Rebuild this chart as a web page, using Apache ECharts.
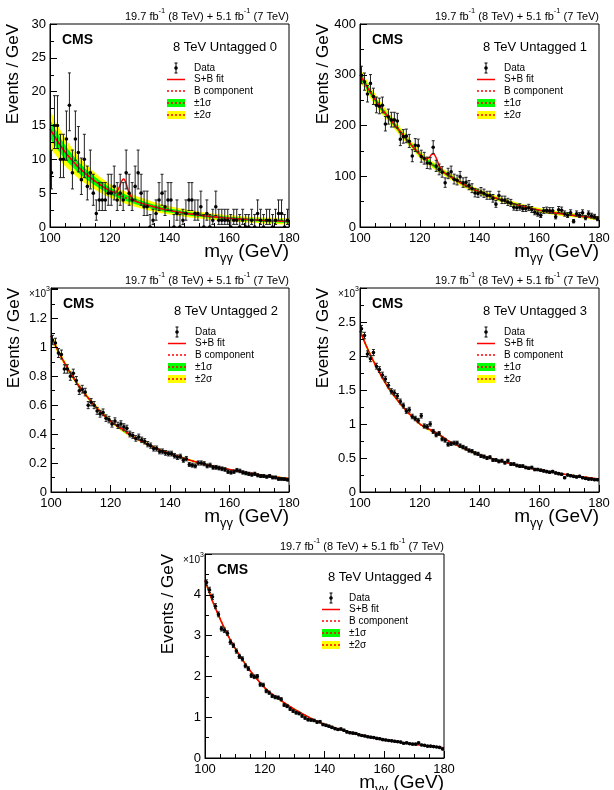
<!DOCTYPE html>
<html>
<head>
<meta charset="utf-8">
<script src="https://cdn.jsdelivr.net/npm/echarts@6/dist/echarts.min.js"></script>
<style>
html, body { margin: 0; padding: 0; background: #fff; }
#main { width: 614px; height: 790px; }
</style>
</head>
<body>
<div id="main"></div>
<script>
var massBins = [100.5, 101.5, 102.5, 103.5, 104.5, 105.5, 106.5, 107.5, 108.5, 109.5,
	110.5, 111.5, 112.5, 113.5, 114.5, 115.5, 116.5, 117.5, 118.5, 119.5,
	120.5, 121.5, 122.5, 123.5, 124.5, 125.5, 126.5, 127.5, 128.5, 129.5,
	130.5, 131.5, 132.5, 133.5, 134.5, 135.5, 136.5, 137.5, 138.5, 139.5,
	140.5, 141.5, 142.5, 143.5, 144.5, 145.5, 146.5, 147.5, 148.5, 149.5,
	150.5, 151.5, 152.5, 153.5, 154.5, 155.5, 156.5, 157.5, 158.5, 159.5,
	160.5, 161.5, 162.5, 163.5, 164.5, 165.5, 166.5, 167.5, 168.5, 169.5,
	170.5, 171.5, 172.5, 173.5, 174.5, 175.5, 176.5, 177.5, 178.5, 179.5];

var fitMass = [100, 102.5, 105, 107.5, 110, 115, 120, 122, 123, 124, 124.7, 125.5, 126.5, 128, 130, 135, 140, 150, 160, 170, 180];

// Untagged 0 (events / GeV)
var untag0Data = [8, 15, 15, 10, 10, 13, 18, 8, 13, 11, 7, 10, 6, 8, 5, 2, 4, 4, 4, 5,
	5, 6, 4, 5, 4, 8, 5, 4, 6, 8, 5, 3, 3, 0, 1, 2, 4, 5, 3, 4,
	4, 0, 2, 0, 1, 2, 4, 4, 2, 2, 3, 0, 2, 0, 1, 3, 1, 1, 1, 1,
	0, 1, 1, 0, 1, 0, 0, 1, 0, 2, 1, 0, 1, 1, 0, 1, 2, 2, 0, 1];
var untag0Bkg = [14.5, 12.7, 11.1, 9.8, 8.6, 6.8, 5.35, 4.95, 4.75, 4.55, 4.45, 4.3, 4.15, 3.9, 3.6, 2.95, 2.45, 1.75, 1.3, 1.0, 0.82];
var untag0Fit = [14.5, 12.7, 11.1, 9.8, 8.6, 6.8, 5.35, 5.15, 5.7, 6.8, 7.1, 6.4, 5.0, 3.95, 3.6, 2.95, 2.45, 1.75, 1.3, 1.0, 0.82];
var untag0Sig1 = [1.4, 1.2, 1.05, 0.9, 0.8, 0.62, 0.5, 0.47, 0.46, 0.45, 0.45, 0.44, 0.43, 0.42, 0.4, 0.35, 0.3, 0.25, 0.22, 0.22, 0.24];
var untag0Sig2 = [2.8, 2.4, 2.1, 1.8, 1.6, 1.25, 1.0, 0.95, 0.93, 0.91, 0.9, 0.89, 0.87, 0.84, 0.8, 0.7, 0.6, 0.5, 0.45, 0.45, 0.5];

// Untagged 1 (events / GeV)
var untag1Data = [299, 286, 262, 283, 257, 240, 238, 240, 203, 217, 211, 211, 209, 173, 178, 179, 169, 140, 161, 160,
	139, 135, 126, 125, 157, 120, 113, 108, 87, 105, 109, 94, 92, 99, 87, 88, 82, 76, 67, 66,
	69, 66, 62, 62, 56, 45, 62, 53, 53, 49, 47, 39, 38, 39, 36, 36, 38, 34, 29, 26,
	23, 32, 33, 32, 32, 20, 34, 33, 26, 23, 28, 11, 26, 23, 28, 18, 26, 22, 20, 16];
var untag1Bkg = [300, 275, 252, 231, 213, 177, 143, 133, 128, 124, 121, 118, 114, 108, 100, 83, 69, 48, 33, 24, 17];
var untag1Fit = [300, 275, 252, 231, 213, 177, 143, 135, 136, 143, 144, 136, 121, 108.5, 100, 83, 69, 48, 33, 24, 17];
var untag1Sig1 = [7, 6.2, 5.5, 5, 4.5, 4, 3.5, 3.4, 3.3, 3.3, 3.3, 3.2, 3.2, 3.1, 3, 2.8, 2.6, 2.3, 2.1, 2, 2];
var untag1Sig2 = [14, 12.4, 11, 10, 9, 8, 7, 6.8, 6.6, 6.6, 6.6, 6.4, 6.4, 6.2, 6, 5.6, 5.2, 4.6, 4.2, 4, 4];

// Untagged 2 (x10^3 events / GeV)
var untag2Data = [1.05, 1.03, 0.96, 0.95, 0.85, 0.85, 0.80, 0.82, 0.77, 0.70, 0.71, 0.69, 0.60, 0.62, 0.60, 0.56, 0.54, 0.55, 0.51, 0.50,
	0.47, 0.49, 0.46, 0.47, 0.45, 0.44, 0.40, 0.39, 0.37, 0.38, 0.36, 0.35, 0.33, 0.32, 0.30, 0.30, 0.28, 0.28, 0.27, 0.265,
	0.265, 0.25, 0.24, 0.245, 0.22, 0.23, 0.19, 0.185, 0.18, 0.20, 0.20, 0.195, 0.18, 0.185, 0.17, 0.17, 0.165, 0.16, 0.155, 0.14,
	0.135, 0.14, 0.15, 0.145, 0.135, 0.13, 0.125, 0.12, 0.125, 0.115, 0.11, 0.11, 0.105, 0.11, 0.10, 0.10, 0.09, 0.09, 0.088, 0.085];
var untag2Bkg = [1.08, 0.97, 0.875, 0.79, 0.715, 0.59, 0.49, 0.458, 0.443, 0.428, 0.418, 0.407, 0.394, 0.376, 0.355, 0.305, 0.265, 0.2, 0.155, 0.12, 0.092];
var untag2Fit = [1.08, 0.97, 0.875, 0.79, 0.715, 0.59, 0.49, 0.459, 0.447, 0.436, 0.428, 0.415, 0.397, 0.376, 0.355, 0.305, 0.265, 0.2, 0.155, 0.12, 0.092];
var untag2Sig1 = [0.012, 0.011, 0.01, 0.009, 0.008, 0.007, 0.006, 0.006, 0.006, 0.006, 0.006, 0.006, 0.005, 0.005, 0.005, 0.005, 0.004, 0.004, 0.003, 0.003, 0.003];
var untag2Sig2 = [0.024, 0.022, 0.02, 0.018, 0.016, 0.014, 0.012, 0.012, 0.012, 0.012, 0.012, 0.012, 0.01, 0.01, 0.01, 0.01, 0.008, 0.008, 0.006, 0.006, 0.006];

// Untagged 3 (x10^3 events / GeV)
var untag3Data = [2.40, 2.30, 2.03, 1.96, 2.05, 1.85, 1.80, 1.72, 1.66, 1.57, 1.48, 1.46, 1.41, 1.33, 1.27, 1.19, 1.21, 1.11, 1.08, 1.05,
	1.12, 0.97, 0.96, 1.00, 0.89, 0.84, 0.86, 0.78, 0.76, 0.70, 0.71, 0.72, 0.72, 0.68, 0.66, 0.64, 0.61, 0.60, 0.57, 0.56,
	0.53, 0.52, 0.50, 0.51, 0.47, 0.47, 0.45, 0.46, 0.43, 0.46, 0.41, 0.41, 0.39, 0.38, 0.38, 0.36, 0.35, 0.36, 0.33, 0.33,
	0.32, 0.31, 0.30, 0.29, 0.30, 0.28, 0.27, 0.26, 0.21, 0.25, 0.24, 0.23, 0.22, 0.23, 0.21, 0.20, 0.19, 0.19, 0.18, 0.18];
var untag3Bkg = [2.37, 2.11, 1.88, 1.68, 1.5, 1.22, 1.0, 0.945, 0.92, 0.895, 0.878, 0.86, 0.84, 0.8, 0.74, 0.635, 0.55, 0.42, 0.325, 0.25, 0.19];
var untag3Fit = [2.37, 2.11, 1.88, 1.68, 1.5, 1.22, 1.0, 0.947, 0.928, 0.912, 0.898, 0.876, 0.847, 0.801, 0.74, 0.635, 0.55, 0.42, 0.325, 0.25, 0.19];
var untag3Sig1 = [0.02, 0.018, 0.016, 0.014, 0.013, 0.011, 0.01, 0.01, 0.01, 0.009, 0.009, 0.009, 0.009, 0.009, 0.008, 0.008, 0.007, 0.006, 0.005, 0.005, 0.005];
var untag3Sig2 = [0.04, 0.036, 0.032, 0.028, 0.026, 0.022, 0.02, 0.02, 0.02, 0.018, 0.018, 0.018, 0.018, 0.018, 0.016, 0.016, 0.014, 0.012, 0.01, 0.01, 0.01];

// Untagged 4 (x10^3 events / GeV)
var untag4Data = [4.30, 4.12, 3.95, 3.72, 3.52, 3.17, 3.13, 3.06, 2.84, 2.76, 2.62, 2.49, 2.43, 2.26, 2.19, 2.02, 1.99, 2.00, 1.80, 1.79,
	1.64, 1.60, 1.52, 1.49, 1.48, 1.44, 1.30, 1.27, 1.20, 1.15, 1.11, 1.09, 1.03, 0.98, 0.94, 0.93, 0.92, 0.88, 0.89, 0.82,
	0.80, 0.78, 0.75, 0.72, 0.70, 0.71, 0.68, 0.64, 0.62, 0.61, 0.60, 0.57, 0.55, 0.54, 0.52, 0.51, 0.50, 0.48, 0.47, 0.45,
	0.44, 0.43, 0.42, 0.41, 0.40, 0.39, 0.36, 0.37, 0.35, 0.34, 0.34, 0.37, 0.32, 0.31, 0.29, 0.29, 0.28, 0.27, 0.26, 0.22];
var untag4Bkg = [4.35, 3.85, 3.42, 3.03, 2.7, 2.15, 1.72, 1.59, 1.53, 1.47, 1.44, 1.4, 1.35, 1.28, 1.19, 0.99, 0.825, 0.6, 0.445, 0.335, 0.25];
var untag4Fit = [4.35, 3.85, 3.42, 3.03, 2.7, 2.15, 1.72, 1.592, 1.54, 1.49, 1.46, 1.415, 1.357, 1.281, 1.19, 0.99, 0.825, 0.6, 0.445, 0.335, 0.25];
var untag4Sig1 = [0.03, 0.027, 0.024, 0.021, 0.019, 0.016, 0.014, 0.013, 0.013, 0.013, 0.012, 0.012, 0.012, 0.012, 0.011, 0.01, 0.009, 0.008, 0.007, 0.006, 0.006];
var untag4Sig2 = [0.06, 0.054, 0.048, 0.042, 0.038, 0.032, 0.028, 0.026, 0.026, 0.026, 0.024, 0.024, 0.024, 0.024, 0.022, 0.02, 0.018, 0.016, 0.014, 0.012, 0.012];

var panels = [
	{ label : '8 TeV Untagged 0', data : untag0Data, bkg : untag0Bkg, fit : untag0Fit, sig1 : untag0Sig1, sig2 : untag0Sig2, ymax : 30, ystep : 5, ylast : 30, unit : 1 },
	{ label : '8 TeV Untagged 1', data : untag1Data, bkg : untag1Bkg, fit : untag1Fit, sig1 : untag1Sig1, sig2 : untag1Sig2, ymax : 400, ystep : 100, ylast : 400, unit : 1 },
	{ label : '8 TeV Untagged 2', data : untag2Data, bkg : untag2Bkg, fit : untag2Fit, sig1 : untag2Sig1, sig2 : untag2Sig2, ymax : 1.41, ystep : 0.2, ylast : 1.2, unit : 1000 },
	{ label : '8 TeV Untagged 3', data : untag3Data, bkg : untag3Bkg, fit : untag3Fit, sig1 : untag3Sig1, sig2 : untag3Sig2, ymax : 3.0, ystep : 0.5, ylast : 2.5, unit : 1000 },
	{ label : '8 TeV Untagged 4', data : untag4Data, bkg : untag4Bkg, fit : untag4Fit, sig1 : untag4Sig1, sig2 : untag4Sig2, ymax : 5.0, ystep : 1, ylast : 4, unit : 1000 }
];

var boxes = [
	{ left : 50, top : 24, width : 239, height : 203 },
	{ left : 360, top : 24, width : 239, height : 203 },
	{ left : 51, top : 288, width : 238, height : 204 },
	{ left : 360, top : 288, width : 239, height : 204 },
	{ left : 205, top : 554, width : 239, height : 204 }
];

var FONT = '"Liberation Sans", Arial, Helvetica, sans-serif';
var FAMILY = 'Liberation Sans';

var measureCtx = document.createElement('canvas').getContext('2d');
function textWidth(str, font) {
	measureCtx.font = font;
	return measureCtx.measureText(str).width;
}

function poisson(v, unit) {
	var n = v * unit;
	if (n <= 0) {
		return [0, 1.84 / unit];
	}
	var d = Math.sqrt(n + 0.25);
	return [(n - d + 0.5) / unit, (n + d + 0.5) / unit];
}

function renderPoint(params, api) {
	var x = api.value(0);
	var p = api.coord([x, api.value(1)]);
	var lo = api.coord([x, api.value(2)]);
	var hi = api.coord([x, api.value(3)]);
	var bar = { stroke : '#222', lineWidth : 1 };
	return {
		type : 'group',
		children : [ {
			type : 'line',
			shape : { x1 : p[0], y1 : lo[1], x2 : p[0], y2 : hi[1] },
			style : bar
		}, {
			type : 'line',
			shape : { x1 : p[0] - 1.5, y1 : hi[1], x2 : p[0] + 1.5, y2 : hi[1] },
			style : bar
		}, {
			type : 'line',
			shape : { x1 : p[0] - 1.5, y1 : lo[1], x2 : p[0] + 1.5, y2 : lo[1] },
			style : bar
		}, {
			type : 'circle',
			shape : { cx : p[0], cy : p[1], r : 1.8 },
			style : { fill : '#000' }
		} ]
	};
}

function legendItems(L, T) {
	var cx = L + 126, tx = L + 144;
	var rows = [ T + 44, T + 55.5, T + 67, T + 79, T + 91 ];
	var names = [ 'Data', 'S+B fit', 'B component', '\u00b11\u03c3', '\u00b12\u03c3' ];
	var els = [];
	els.push({ type : 'line', shape : { x1 : cx, y1 : rows[0] - 5, x2 : cx, y2 : rows[0] + 5 }, style : { stroke : '#000', lineWidth : 1 } });
	els.push({ type : 'line', shape : { x1 : cx - 1.5, y1 : rows[0] - 5, x2 : cx + 1.5, y2 : rows[0] - 5 }, style : { stroke : '#000', lineWidth : 1 } });
	els.push({ type : 'line', shape : { x1 : cx - 1.5, y1 : rows[0] + 5, x2 : cx + 1.5, y2 : rows[0] + 5 }, style : { stroke : '#000', lineWidth : 1 } });
	els.push({ type : 'circle', shape : { cx : cx, cy : rows[0], r : 1.8 }, style : { fill : '#000' } });
	els.push({ type : 'line', shape : { x1 : cx - 9, y1 : rows[1], x2 : cx + 9, y2 : rows[1] }, style : { stroke : '#ff0000', lineWidth : 1.5 } });
	els.push({ type : 'line', shape : { x1 : cx - 9, y1 : rows[2], x2 : cx + 9, y2 : rows[2] }, style : { stroke : '#ff0000', lineWidth : 1.5, lineDash : [ 2, 2 ] } });
	var fills = [ '#00ff00', '#ffff00' ];
	for ( var k = 0; k < 2; k++) {
		var yy = rows[3 + k];
		els.push({ type : 'rect', shape : { x : cx - 9, y : yy - 4, width : 18, height : 8 }, style : { fill : fills[k] } });
		els.push({ type : 'line', shape : { x1 : cx - 9, y1 : yy, x2 : cx + 9, y2 : yy }, style : { stroke : '#ff0000', lineWidth : 1.5, lineDash : [ 2, 2 ] } });
	}
	for ( var i in names) {
		els.push({
			type : 'text', x : tx, y : rows[i],
			style : { text : names[i], font : '10px ' + FONT, fill : '#000', textVerticalAlign : 'middle', verticalAlign : 'middle' }
		});
	}
	return els;
}

function xTitle(R, B) {
	var big = '19px ' + FONT, small = '13px ' + FONT;
	var wTail = textWidth(' (GeV)', big);
	var wSub = textWidth('\u03b3\u03b3', small);
	var cy = B + 25;
	return [ {
		type : 'text', x : R, y : cy,
		style : { text : ' (GeV)', font : big, fill : '#000', textAlign : 'right', align : 'right', textVerticalAlign : 'middle', verticalAlign : 'middle' }
	}, {
		type : 'text', x : R - wTail, y : cy + 6,
		style : { text : '\u03b3\u03b3', font : small, fill : '#000', textAlign : 'right', align : 'right', textVerticalAlign : 'middle', verticalAlign : 'middle' }
	}, {
		type : 'text', x : R - wTail - wSub, y : cy,
		style : { text : 'm', font : big, fill : '#000', textAlign : 'right', align : 'right', textVerticalAlign : 'middle', verticalAlign : 'middle' }
	} ];
}

function panelTexts(p, b) {
	var L = b.left, T = b.top, R = b.left + b.width, B = b.top + b.height;
	var els = [];
	els.push({
		type : 'text', x : R, y : T - 17,
		style : {
			text : '{n|19.7 fb}{s|-1}{n| (8 TeV) + 5.1 fb}{s|-1}{n| (7 TeV)}',
			textAlign : 'right', align : 'right', textVerticalAlign : 'top', verticalAlign : 'top',
			rich : {
				n : { fontSize : 11, fontFamily : FAMILY, lineHeight : 15, verticalAlign : 'bottom', color : '#000' },
				s : { fontSize : 7.5, fontFamily : FAMILY, lineHeight : 8, verticalAlign : 'top', color : '#000' }
			}
		}
	});
	els.push({
		type : 'text', x : L + 12, y : T + 16,
		style : { text : 'CMS', font : 'bold 14px ' + FONT, fill : '#000', textVerticalAlign : 'middle', verticalAlign : 'middle' }
	});
	els.push({
		type : 'text', x : L + 123, y : T + 23.5,
		style : { text : p.label, font : '13px ' + FONT, fill : '#000', textVerticalAlign : 'middle', verticalAlign : 'middle' }
	});
	els.push({
		type : 'text', x : L - 45, y : T, rotation : Math.PI / 2,
		style : { text : 'Events / GeV', font : '17px ' + FONT, fill : '#000', textAlign : 'right', align : 'right', textVerticalAlign : 'top', verticalAlign : 'top' }
	});
	els = els.concat(xTitle(R, B));
	if (p.unit > 1) {
		els.push({
			type : 'text', x : L - 22, y : T - 2,
			style : {
				text : '{n|\u00d710}{s|3}',
				textVerticalAlign : 'top', verticalAlign : 'top',
				rich : {
					n : { fontSize : 10, fontFamily : FAMILY, lineHeight : 13, verticalAlign : 'bottom', color : '#333' },
					s : { fontSize : 7, fontFamily : FAMILY, lineHeight : 7, verticalAlign : 'top', color : '#333' }
				}
			}
		});
	}
	return els.concat(legendItems(L, T));
}

function curve(p, key, sign, band) {
	var out = [];
	for ( var j = 0; j < fitMass.length; j++) {
		var y = p[key][j];
		if (band) {
			y += sign * p[band][j];
		}
		out.push([ fitMass[j], y ]);
	}
	return out;
}

function initChart() {
	var option = { animation : false, grid : [], xAxis : [], yAxis : [], series : [], graphic : [] };
	var black = { color : '#000', width : 1 };
	for ( var i = 0; i < panels.length; i++) {
		var p = panels[i], b = boxes[i];
		option.grid.push({ left : b.left, top : b.top, width : b.width, height : b.height, show : true, borderColor : '#000', borderWidth : 1, z : 10 });
		option.xAxis.push({
			gridIndex : i, type : 'value', min : 100, max : 180, interval : 20, z : 10,
			axisLine : { show : true, onZero : false, lineStyle : black },
			axisTick : { inside : true, length : 7, lineStyle : black },
			minorTick : { show : true, splitNumber : 4, length : 4, lineStyle : black },
			axisLabel : { color : '#000', fontSize : 13, fontFamily : FAMILY, margin : 5 },
			splitLine : { show : false }
		});
		option.yAxis.push({
			gridIndex : i, type : 'value', min : 0, max : p.ymax, interval : p.ystep, z : 10,
			axisLine : { show : true, onZero : false, lineStyle : black },
			axisTick : { inside : true, length : 7, lineStyle : black },
			minorTick : { show : true, splitNumber : 2, length : 4, lineStyle : black },
			axisLabel : {
				color : '#000', fontSize : 13, fontFamily : FAMILY, margin : 4,
				formatter : (function(last) {
					return function(v) {
						return v > last + 1e-9 ? '' : String(Math.round(v * 1000) / 1000);
					};
				})(p.ylast)
			},
			splitLine : { show : false }
		});

		var points = [];
		for ( var k = 0; k < massBins.length; k++) {
			var e = poisson(p.data[k], p.unit);
			points.push([ massBins[k], p.data[k], e[0], e[1] ]);
		}
		// bands: fill each edge down to zero, painted from the top edge to the bottom edge
		var layers = [
			{ data : curve(p, 'bkg', 1, 'sig2'), color : '#ffff00' },
			{ data : curve(p, 'bkg', 1, 'sig1'), color : '#00ff00' },
			{ data : curve(p, 'bkg', -1, 'sig1'), color : '#ffff00' },
			{ data : curve(p, 'bkg', -1, 'sig2'), color : '#ffffff' }
		];
		for ( var m = 0; m < layers.length; m++) {
			option.series.push({
				type : 'line', xAxisIndex : i, yAxisIndex : i, symbol : 'none', smooth : 0.3, silent : true,
				data : layers[m].data, lineStyle : { width : 0, opacity : 0 },
				areaStyle : { color : layers[m].color, opacity : 1 }
			});
		}
		option.series.push({
			name : 'B component', type : 'line', xAxisIndex : i, yAxisIndex : i, symbol : 'none', smooth : 0.3, silent : true,
			data : curve(p, 'bkg'), lineStyle : { color : '#ff0000', width : 1.5, type : [ 2, 2 ] }
		});
		option.series.push({
			name : 'S+B fit', type : 'line', xAxisIndex : i, yAxisIndex : i, symbol : 'none', smooth : 0.3, silent : true,
			data : curve(p, 'fit'), lineStyle : { color : '#ff0000', width : 1.5 }
		});
		option.series.push({
			name : 'Data', type : 'custom', xAxisIndex : i, yAxisIndex : i, data : points,
			renderItem : renderPoint, clip : true, encode : { x : 0, y : 1 }, z : 5
		});
		option.graphic = option.graphic.concat(panelTexts(p, b));
	}
	var chart = echarts.init(document.getElementById('main'), null, { renderer : 'canvas' });
	chart.setOption(option);
}

initChart();
</script>
</body>
</html>
